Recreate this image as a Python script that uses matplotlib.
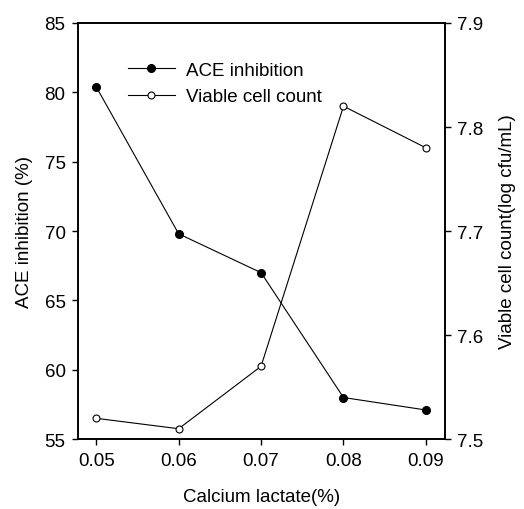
import numpy as np
import matplotlib
matplotlib.use("Agg")
import matplotlib.pyplot as plt

plt.rcParams['font.family'] = ['Liberation Sans', 'DejaVu Sans']

# data
calcium = [0.05, 0.06, 0.07, 0.08, 0.09]
ace_inhibition = [80.4, 69.8, 67.0, 58.0, 57.1]
viable_count = [7.52, 7.51, 7.57, 7.82, 7.78]
xticks = [0.05, 0.06, 0.07, 0.08, 0.09]
yticks_left = [55, 60, 65, 70, 75, 80, 85]
yticks_right = [7.5, 7.6, 7.7, 7.8, 7.9]

fs = 13.5

fig = plt.figure(figsize=(5.24, 5.10), dpi=100)
ax = fig.add_axes([0.149, 0.137, 0.70, 0.816])
ax2 = ax.twinx()

l1, = ax.plot(calcium, ace_inhibition, 'k-', lw=0.8, marker='o', ms=5.5,
              mfc='k', mec='k', label="ACE inhibition")
l2, = ax2.plot(calcium, viable_count, 'k-', lw=0.8, marker='o', ms=5,
               mfc='white', mec='k', mew=0.8, label="Viable cell count")

ax.set_xlim(0.0478, 0.0923)
ax.set_ylim(55, 85)
ax2.set_ylim(7.5, 7.9)
ax.set_xticks(xticks)
ax.set_xticklabels(["%.2f" % v for v in xticks])
ax.set_yticks(yticks_left)
ax2.set_yticks(yticks_right)
ax2.set_yticklabels(["%.1f" % v for v in yticks_right])

for a in (ax, ax2):
    for s in a.spines.values():
        s.set_linewidth(1.2)
    a.tick_params(direction='out', length=4, width=1, labelsize=fs, pad=5)

ax.set_xlabel("Calcium lactate(%)", fontsize=fs, labelpad=14)
ax.set_ylabel("ACE inhibition (%)", fontsize=fs, labelpad=8)
ax2.set_ylabel("Viable cell count(log cfu/mL)", fontsize=fs, labelpad=11)

ax.legend(handles=[l1, l2], loc='upper left', bbox_to_anchor=(0.136, 0.907),
          frameon=False, fontsize=fs, handlelength=2.5, handletextpad=0.6,
          labelspacing=0.5, borderaxespad=0, borderpad=0)

fig.savefig("out.png", dpi=100)
